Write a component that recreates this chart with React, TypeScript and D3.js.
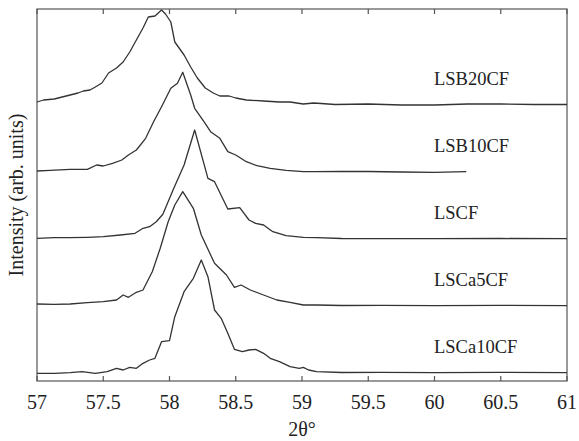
import React from "react";
import * as d3 from "d3";

const seriesNames = ["LSB20CF", "LSB10CF", "LSCF", "LSCa5CF", "LSCa10CF"];

const lsb20cf: [number, number][] = [
  [57.0, 279], [57.05, 281], [57.13, 282], [57.19, 284], [57.25, 286], [57.31, 288], [57.35, 290],
  [57.4, 291], [57.44, 294], [57.49, 298], [57.54, 308], [57.6, 313], [57.65, 319], [57.7, 329],
  [57.75, 341], [57.8, 353], [57.84, 364], [57.89, 365], [57.94, 371], [57.97, 367], [58.01, 359],
  [58.04, 339], [58.11, 326], [58.16, 314], [58.21, 303], [58.27, 293], [58.33, 288], [58.38, 285],
  [58.45, 285], [58.5, 283], [58.58, 281], [58.71, 280], [58.83, 279], [58.91, 279], [59.01, 277],
  [59.09, 278], [59.25, 276.5], [59.5, 277], [59.75, 276], [60.0, 276], [60.25, 277], [60.5, 277],
  [60.75, 276.5], [61.0, 276.5],
];

const lsb10cf: [number, number][] = [
  [57.0, 210], [57.1, 210.7], [57.25, 211.7], [57.38, 211.7], [57.45, 216], [57.5, 215],
  [57.57, 217.7], [57.64, 221], [57.69, 226], [57.75, 231], [57.82, 242.7], [57.88, 259.3],
  [57.94, 274.3], [58.01, 292.7], [58.06, 297.7], [58.1, 308.7], [58.16, 286], [58.19, 272.7],
  [58.26, 259.3], [58.31, 249.3], [58.38, 242.7], [58.44, 229.3], [58.5, 226], [58.58, 219.3],
  [58.66, 215.3], [58.76, 212.7], [58.88, 210.7], [59.01, 209.3], [59.09, 209.3], [59.3, 209.5],
  [59.5, 209.5], [59.75, 209], [60.0, 208.7], [60.24, 209.3],
];

const lscf: [number, number][] = [
  [57.0, 142.7], [57.13, 143.3], [57.25, 143.3], [57.38, 143.7], [57.5, 144.3], [57.63, 146],
  [57.74, 147.7], [57.8, 152.7], [57.85, 154.3], [57.9, 159.3], [57.95, 166.7], [58.03, 192],
  [58.11, 216], [58.19, 251], [58.29, 202.7], [58.34, 199.3], [58.44, 172], [58.53, 173.3],
  [58.6, 161], [58.65, 157.7], [58.71, 156], [58.78, 149.3], [58.88, 145.3], [59.01, 143.7],
  [59.11, 143.3], [59.3, 142.5], [59.6, 142.3], [60.0, 142.3], [60.5, 142.5], [61.0, 142.3],
];

const lsca5cf: [number, number][] = [
  [57.0, 77], [57.13, 76.7], [57.25, 77], [57.38, 78.3], [57.5, 79.3], [57.6, 81], [57.65, 86],
  [57.69, 83.7], [57.75, 88.7], [57.8, 91], [57.87, 109.3], [57.93, 132.7], [57.99, 159.3],
  [58.04, 176], [58.1, 189.3], [58.18, 172.7], [58.24, 146], [58.34, 117.7], [58.43, 106],
  [58.49, 93.7], [58.54, 96], [58.61, 91], [58.71, 86], [58.81, 81], [58.91, 78.7], [59.01, 76],
  [59.11, 76], [59.3, 75.5], [59.6, 75.7], [60.0, 75.3], [60.5, 75.7], [61.0, 75.3],
];

const lsca10cf: [number, number][] = [
  [57.0, 7.7], [57.13, 7.7], [57.25, 8.3], [57.34, 9.3], [57.44, 7.7], [57.53, 9.3], [57.6, 12.7],
  [57.65, 11], [57.7, 13.7], [57.75, 12.7], [57.8, 17.7], [57.85, 21], [57.89, 22.7], [57.94, 39.3],
  [58.0, 40.3], [58.04, 64.3], [58.11, 89.3], [58.18, 102.7], [58.24, 121], [58.29, 104.3],
  [58.34, 71], [58.39, 62.7], [58.44, 47.7], [58.49, 31.7], [58.55, 29.3], [58.6, 31], [58.65, 31.7],
  [58.71, 27.7], [58.76, 22.7], [58.83, 19.3], [58.91, 14.3], [58.98, 12.7], [59.01, 13.7],
  [59.05, 11], [59.11, 9.3], [59.3, 8.5], [59.6, 8.7], [60.0, 8.3], [60.5, 8.7], [61.0, 8.3],
];

const seriesData = [lsb20cf, lsb10cf, lscf, lsca5cf, lsca10cf];
const xTicks = [57, 57.5, 58, 58.5, 59, 59.5, 60, 60.5, 61];

const W = 579;
const H = 441;
const margin = { left: 37, right: 12, top: 9, bottom: 60 };

export default function App() {
  const x = d3.scaleLinear().domain([57, 61]).range([margin.left, W - margin.right]);
  const y = d3.scaleLinear().domain([0, 372]).range([H - margin.bottom, margin.top]);
  const line = d3
    .line<[number, number]>()
    .x((d) => x(d[0]))
    .y((d) => y(d[1]));
  const font = "\"Times New Roman\", Times, \"Liberation Serif\", \"DejaVu Serif\", serif";
  const axisColor = "#555";
  const x0 = margin.left;
  const x1 = W - margin.right;
  const y0 = H - margin.bottom;
  const y1 = margin.top;
  const txt = { fontFamily: font };

  return (
    <svg width={W} height={H} style={{ position: "absolute", left: 0, top: 0, background: "#fff" }}>
      <rect x={x0} y={y1} width={x1 - x0} height={y0 - y1} fill="none" stroke={axisColor} strokeWidth={1.2} />
      {xTicks.map((t) => (
        <g key={t}>
          <line x1={x(t)} x2={x(t)} y1={y0} y2={y0 - 5} stroke={axisColor} strokeWidth={1.2} />
          <line x1={x(t)} x2={x(t)} y1={y1} y2={y1 + 5} stroke={axisColor} strokeWidth={1.2} />
          <text x={x(t)} y={y0 + 28} textAnchor="middle" style={txt} fontSize={20} fill="#222">
            {t}
          </text>
        </g>
      ))}
      {seriesData.map((s, i) => (
        <path key={i} d={line(s) || ""} fill="none" stroke="#333" strokeWidth={1.3} strokeLinejoin="round" />
      ))}
      {seriesNames.map((n, i) => {
        const base = seriesData[i][seriesData[i].length - 1][1];
        return (
          <text key={n} x={x(60.0) - 0.5} y={y(base) - 20} style={txt} fontSize={18.5} fill="#222">
            {n}
          </text>
        );
      })}
      <text x={302} y={H - 5} textAnchor="middle" style={txt} fontSize={20} fill="#222">
        2θ°
      </text>
      <text
        transform={`translate(${23},${(y0 + y1) / 2}) rotate(-90)`}
        textAnchor="middle"
        style={txt}
        fontSize={20}
        fill="#222"
      >
        Intensity (arb. units)
      </text>
    </svg>
  );
}
